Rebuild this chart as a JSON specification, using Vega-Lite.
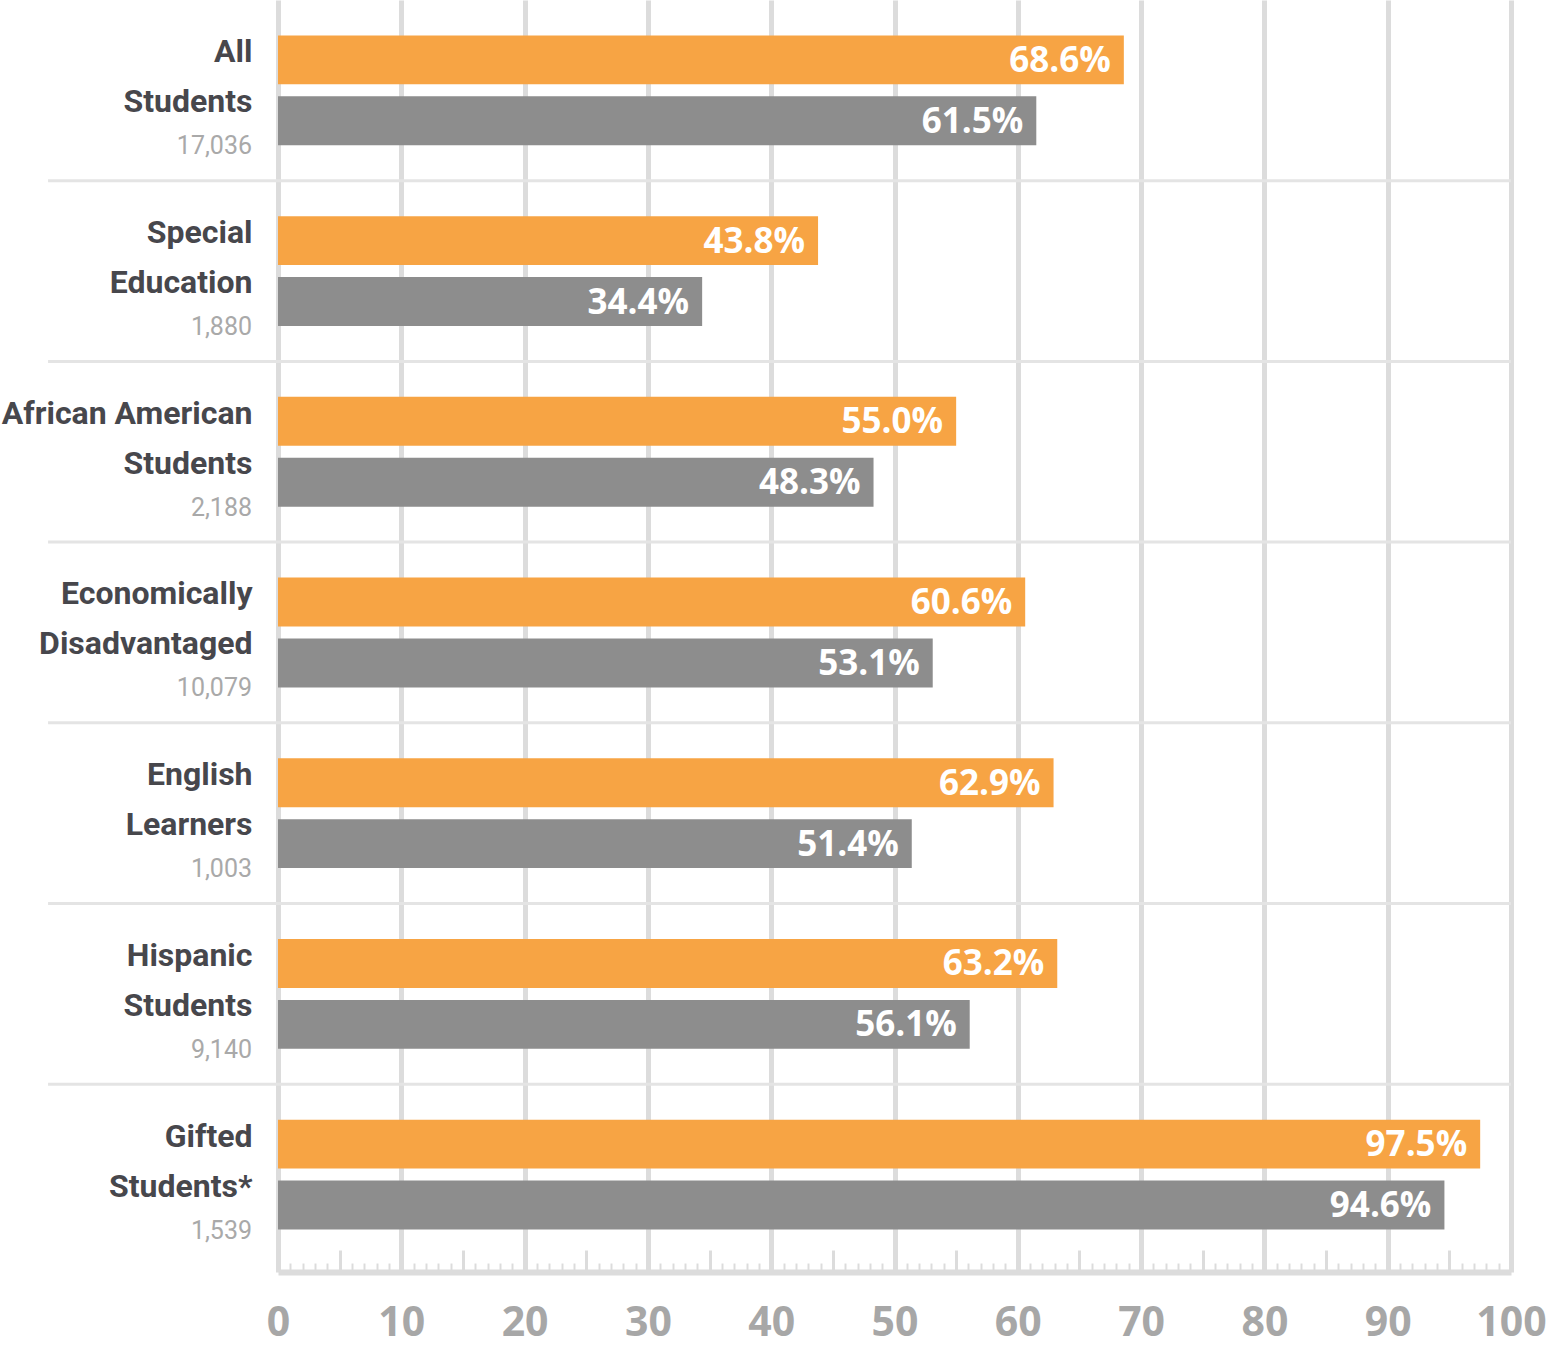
{
  "$schema": "https://vega.github.io/schema/vega-lite/v6.json",
  "width": 1233,
  "height": 1272,
  "autosize": "none",
  "padding": {"left": 278, "top": 0, "right": 36, "bottom": 78},
  "background": "white",
  "config": {"view": {"stroke": null}},
  "data": {
    "values": [
      {"group": "All|Students", "n": 17036, "series": "Current", "value": 68.6},
      {"group": "All|Students", "n": 17036, "series": "Prior", "value": 61.5},
      {"group": "Special|Education", "n": 1880, "series": "Current", "value": 43.8},
      {"group": "Special|Education", "n": 1880, "series": "Prior", "value": 34.4},
      {"group": "African American|Students", "n": 2188, "series": "Current", "value": 55.0},
      {"group": "African American|Students", "n": 2188, "series": "Prior", "value": 48.3},
      {"group": "Economically|Disadvantaged", "n": 10079, "series": "Current", "value": 60.6},
      {"group": "Economically|Disadvantaged", "n": 10079, "series": "Prior", "value": 53.1},
      {"group": "English|Learners", "n": 1003, "series": "Current", "value": 62.9},
      {"group": "English|Learners", "n": 1003, "series": "Prior", "value": 51.4},
      {"group": "Hispanic|Students", "n": 9140, "series": "Current", "value": 63.2},
      {"group": "Hispanic|Students", "n": 9140, "series": "Prior", "value": 56.1},
      {"group": "Gifted|Students*", "n": 1539, "series": "Current", "value": 97.5},
      {"group": "Gifted|Students*", "n": 1539, "series": "Prior", "value": 94.6}
    ]
  },
  "encoding": {
    "y": {
      "field": "group",
      "type": "nominal",
      "sort": null,
      "scale": {"paddingInner": 0, "paddingOuter": 0.0195, "align": 0},
      "axis": {
        "title": null,
        "domain": false,
        "ticks": false,
        "grid": false,
        "labelExpr": "split(datum.value, '|')",
        "labelFont": "Roboto",
        "labelFontSize": 32,
        "labelFontWeight": "bold",
        "labelColor": "#47474c",
        "labelLineHeight": 50,
        "labelPadding": 26,
        "labelLimit": 0,
        "labelOffset": -38
      }
    }
  },
  "layer": [
    {
      "transform": [{"filter": "datum.series == 'Current' && datum.group != 'Gifted|Students*'"}],
      "mark": {"type": "rule", "color": "#e4e4e4", "strokeWidth": 3},
      "encoding": {
        "x": {
          "datum": -18.65,
          "type": "quantitative",
          "scale": {"domain": [0, 100], "nice": false},
          "axis": {
            "orient": "bottom",
            "title": null,
            "values": [5, 15, 25, 35, 45, 55, 65, 75, 85, 95],
            "offset": -22,
            "tickSize": 21,
            "tickWidth": 3,
            "tickColor": "#dcdcdc",
            "labels": false,
            "domain": false,
            "grid": false
          }
        },
        "x2": {"datum": 100},
        "y": {
          "field": "group",
          "type": "nominal",
          "sort": null,
          "bandPosition": 1,
          "scale": {"paddingInner": 0, "paddingOuter": 0.0195, "align": 0},
          "axis": {
            "title": null,
            "domain": false,
            "ticks": false,
            "grid": false,
            "labelExpr": "split(datum.value, '|')",
            "labelFont": "Roboto",
            "labelFontSize": 32,
            "labelFontWeight": "bold",
            "labelColor": "#47474c",
            "labelLineHeight": 50,
            "labelPadding": 26,
            "labelLimit": 0,
            "labelOffset": -38
          }
        }
      }
    },
    {
      "mark": {"type": "bar"},
      "encoding": {
        "x": {
          "field": "value",
          "type": "quantitative",
          "scale": {"domain": [0, 100], "nice": false},
          "axis": {
            "orient": "bottom",
            "title": null,
            "values": [0, 10, 20, 30, 40, 50, 60, 70, 80, 90, 100],
            "grid": true,
            "gridColor": "#dcdcdc",
            "gridWidth": 5,
            "ticks": false,
            "domain": true,
            "domainColor": "#dcdcdc",
            "domainWidth": 6,
            "labelFont": "Open Sans",
            "labelFontSize": 41,
            "labelFontWeight": "bold",
            "labelColor": "#a7a7a7",
            "labelPadding": 31,
            "labelFlush": false,
            "labelOverlap": false
          }
        },
        "yOffset": {
          "field": "series",
          "type": "nominal",
          "scale": {"domain": ["Current", "Prior"], "paddingInner": 0.197, "paddingOuter": 0.582}
        },
        "color": {
          "field": "series",
          "type": "nominal",
          "scale": {"domain": ["Current", "Prior"], "range": ["#f7a444", "#8d8d8d"]},
          "legend": null
        }
      }
    },
    {
      "transform": [{"calculate": "format(datum.value, '.1f') + '%'", "as": "label"}],
      "mark": {
        "type": "text",
        "align": "right",
        "baseline": "middle",
        "dx": -13,
        "dy": 1,
        "font": "Open Sans",
        "fontSize": 35,
        "fontWeight": "bold",
        "color": "white"
      },
      "encoding": {
        "x": {
          "field": "value",
          "type": "quantitative",
          "scale": {"domain": [0, 100], "nice": false},
          "axis": null
        },
        "yOffset": {
          "field": "series",
          "type": "nominal",
          "scale": {"domain": ["Current", "Prior"], "paddingInner": 0.197, "paddingOuter": 0.582}
        },
        "text": {"field": "label", "type": "nominal"}
      }
    },
    {
      "transform": [{"filter": "datum.series == 'Current'"}],
      "mark": {
        "type": "text",
        "align": "right",
        "baseline": "alphabetic",
        "dx": -26,
        "dy": 64,
        "font": "Roboto",
        "fontSize": 25,
        "color": "#a9a9a9"
      },
      "encoding": {
        "x": {
          "datum": 0,
          "type": "quantitative",
          "scale": {"domain": [0, 100], "nice": false},
          "axis": {
            "orient": "bottom",
            "title": null,
            "values": [1, 2, 3, 4, 6, 7, 8, 9, 11, 12, 13, 14, 16, 17, 18, 19, 21, 22, 23, 24, 26, 27, 28, 29, 31, 32, 33, 34, 36, 37, 38, 39, 41, 42, 43, 44, 46, 47, 48, 49, 51, 52, 53, 54, 56, 57, 58, 59, 61, 62, 63, 64, 66, 67, 68, 69, 71, 72, 73, 74, 76, 77, 78, 79, 81, 82, 83, 84, 86, 87, 88, 89, 91, 92, 93, 94, 96, 97, 98, 99],
            "offset": -9,
            "tickSize": 8,
            "tickWidth": 2,
            "tickColor": "#dcdcdc",
            "labels": false,
            "domain": false,
            "grid": false
          }
        },
        "text": {"field": "n", "type": "quantitative", "format": ","}
      }
    }
  ],
  "resolve": {"axis": {"x": "independent"}}
}
